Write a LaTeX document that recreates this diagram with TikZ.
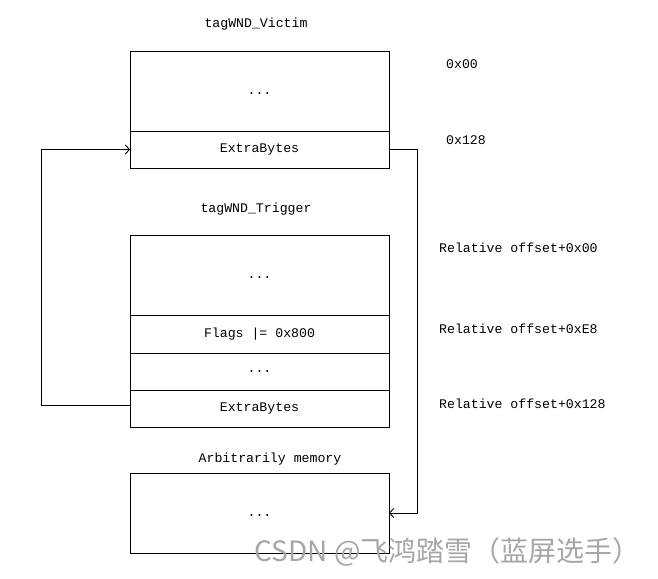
\documentclass[tikz,border=0pt]{standalone}
\usepackage{fontspec}
\setmainfont{Liberation Mono}
\newfontfamily\cjk{Noto Sans CJK SC}
\usetikzlibrary{arrows.meta}
\newcommand{\lowdots}{\raisebox{-6pt}{...}}
\begin{document}
\begin{tikzpicture}[x=1pt,y=-1pt,
  cell/.style={draw,line width=0.9pt,minimum width=259pt,inner sep=0pt,outer sep=0pt,font=\fontsize{13.2}{15}\selectfont},
  lbl/.style={font=\fontsize{13.2}{15}\selectfont,inner sep=0pt},
  arr/.style={line width=0.9pt,-{Straight Barb[length=4pt,width=9pt]}}]
\useasboundingbox (0,0) rectangle (658,578);
% victim
\node[lbl] (vt) at (256,24) {tagWND\_Victim};
\node[cell,minimum height=80pt] (v1) at (259.5,91) {\lowdots};
\node[cell,minimum height=37pt,anchor=north] (v2) at (v1.south) {ExtraBytes};
% trigger
\node[lbl] (tt) at (256,209) {tagWND\_Trigger};
\node[cell,minimum height=80pt] (t1) at (259.5,275) {\lowdots};
\node[cell,minimum height=38pt,anchor=north] (t2) at (t1.south) {Flags |= 0x800};
\node[cell,minimum height=37pt,anchor=north] (t3) at (t2.south) {...};
\node[cell,minimum height=37pt,anchor=north] (t4) at (t3.south) {ExtraBytes};
% memory
\node[lbl] (mt) at (270,459) {Arbitrarily memory};
\node[cell,minimum height=80pt] (m) at (259.5,513) {\lowdots};
% offsets
\node[lbl,anchor=west] (o1) at (446,64) {0x00};
\node[lbl,anchor=west] (o2) at (446,140) {0x128};
\node[lbl,anchor=west] (o3) at (439,248) {Relative offset+0x00};
\node[lbl,anchor=west] (o4) at (439,329) {Relative offset+0xE8};
\node[lbl,anchor=west] (o5) at (439,404) {Relative offset+0x128};
% connectors
\draw[arr] ([yshift=3pt]t4.west) -- ++(-89,0) |- (v2.west);
\draw[arr] (v2.east) -- ++(28,0) |- (m.east);
% watermark
\node[anchor=east,inner sep=0pt,text=black!35,font=\cjk\fontsize{28}{30}\selectfont] (wm) at (641,552) {CSDN @飞鸿踏雪（蓝屏选手）};
\end{tikzpicture}
\end{document}
